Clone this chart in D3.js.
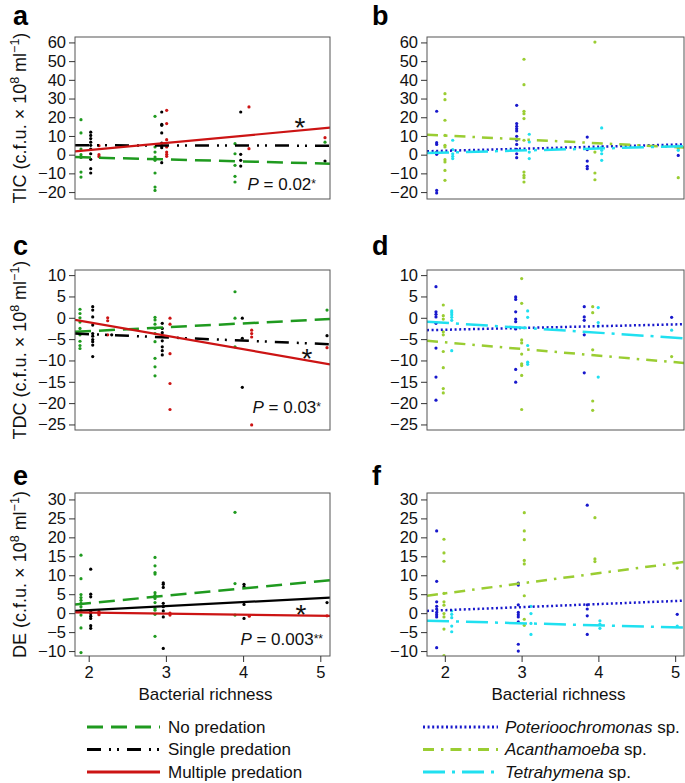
<!DOCTYPE html>
<html><head><meta charset="utf-8">
<script src="https://cdn.jsdelivr.net/npm/d3@7"></script>
<style>body{margin:0;background:#fff} text{font-family:"Liberation Sans",Arial,Helvetica,sans-serif}</style>
</head><body><svg id="c" width="685" height="783"></svg>
<script>
// ---------- DATA ----------
const richnessTicks = [2, 3, 4, 5];
const ticksTIC = [-20, -10, 0, 10, 20, 30, 40, 50, 60];
const ticksTDC = [-25, -20, -15, -10, -5, 0, 5, 10];
const ticksDE  = [-10, -5, 0, 5, 10, 15, 20, 25, 30];
const responseNames = ["TIC", "TDC", "DE"];
const predationNames = ["No predation", "Single predation", "Multiple predation"];
const predatorNames = ["Poterioochromonas", "Acanthamoeba", "Tetrahymena"];
const pValues = ["0.02", "0.03", "0.003"];
const pStars = ["*", "*", "**"];

// [jittered richness, [values]]
const tic_no = [[1.90,[18.7,11.6,3,0,-1.5,-9.3,-12]],[2.859,[20.5,4.1,1.4,-1.3,-3,-9.8,-17.3,-19.1]],[3.895,[5.9,0.5,-5.7,-11.6,-14.6]],[5.061,[6.7]]];
const tic_single = [[2.026,[12,10.3,8.6,6.7,5,3,0.5,-2.5,-7.5,-9.8]],[2.946,[22.8,16.2,15.7,11.6,6.2,4.6,3.7,-4.3]],[3.969,[22.8,0.2,-3,-6.1]],[5.061,[-3.4]]];
const tic_multi = [[2.133,[4.8,0,-1]],[3.01,[23.7,16.6,8,4.1,1.4,0.2,-0.9]],[4.076,[25.5,3.2]],[5.061,[9.1]]];

const tdc_no = [[1.887,[2,1,0,-1,-2.5,-4,-5.5,-6.5,-7.2]],[2.859,[0.1,-0.5,-1.5,-2.5,-3.7,-5.6,-9.5,-11.5,-13.6]],[3.895,[6.1,-0.1,-6.8]],[5.087,[1.8]]];
const tdc_single = [[2.052,[2.6,1.8,0.2,-1.7,-3.7,-4.3,-5.1,-5.6,-6.4,-9.1]],[2.298,[-4.0]],[2.953,[-1.3,-2.5,-3.5,-4.3,-5.4,-6.8,-7.7,-8.7]],[3.99,[-0.1,-4.8,-16.3]],[5.087,[-4.2]]];
const tdc_multi = [[2.246,[0,-0.7,-4]],[3.053,[-0.1,-1.5,-8.4,-15.4,-21.5]],[4.111,[-2.9,-3.7,-4.5,-25.1]],[5.087,[-7.0]]];

const de_no = [[1.90,[15.3,9.1,4.9,4.1,3.4,2.6,1.7,0.8,-0.5,-3.9,-10.4]],[2.859,[14.7,12.5,10.7,10.3,5.4,4.7,3.9,2.8,1.2,0.8,-0.3,-6.1]],[3.895,[26.6,7.8,-0.5]]];
const de_single = [[2.026,[11.6,5.0,4.3,0.4,-0.1,-0.8,-1.4,-3.3,-4.0]],[2.966,[8.0,7.6,6.8,2.6,1.7,0.6,-1.0,-9.3]],[4.012,[7.6,7.0,2.3,-1.4]],[5.087,[2.8]]];
const de_multi = [[2.133,[0.4,0,-0.4]],[3.053,[0,-0.5]],[4.08,[-0.8]],[5.087,[-0.7]]];

const ticP_pot = [[1.894,[23.2,6.4,5.5,1.4,0.2,-19.1,-20.5]],[2.936,[26.4,16.6,15.2,13.9,12.7,9.8,7.7,5.5,2.9,0.5,-1.6]],[3.855,[9.4,2.7,-3.4,-6.2,-7.5]],[5.04,[-0.4]]];
const ticP_aca = [[2.002,[32.6,29.4,18.4,10.3,5,4.1,-2.7,-3.9,-8.4,-13.7]],[3.031,[51,37.4,23.2,21.9,19.3,7.7,-9.3,-11.1,-12.3,-14.6]],[3.955,[60.2,1.4,-9.8,-13.4]],[5.04,[3.2,-12.3]]];
const ticP_tet = [[2.103,[7.7,2.7,0.5,-0.9,-2.1]],[3.1,[10.9,6.8,1.4,-2.1]],[4.043,[14.3,4.1,2.3,0.5,-3]],[5.04,[4.6,2.3]]];

const tdcP_pot = [[1.885,[7.3,1.4,0.8,0.2,-1.3,-7.1,-13.9,-19.3]],[2.923,[4.9,4.3,1.4,-0.3,-0.9,-2.3,-2.6,-12.1,-15.1]],[3.816,[2.6,0.2,-0.6,-4.0,-12.9]],[4.954,[0.1]]];
const tdcP_aca = [[1.98,[3.0,0.5,-0.3,-3.3,-4.0,-7.9,-11.7,-16.6,-17.6]],[3.001,[9.2,3.4,-5.2,-5.9,-8.5,-10.8,-11.2,-13.5,-21.5]],[3.926,[2.6,1.2,-7.5,-19.5,-21.7]],[4.954,[-9.1]]];
const tdcP_tet = [[2.09,[1.6,1.2,0.7,0.1,-0.6,-7.7]],[3.079,[1.6,0.1,-6.5,-10.4,-10.9]],[3.998,[2.4,-1.1,-1.9,-13.9]],[4.954,[-2.9]]];

const deP_pot = [[1.894,[21.7,8.4,3.0,1.8,1.1,0.2,-0.4,-1.0,-9.1]],[2.957,[7.9,7.4,2.2,0.2,-0.4,-1.0,-2.3,-8.2,-10]],[3.855,[28.5,2.2,1.1,-0.7,-5.6]],[5.027,[-0.3]]];
const deP_aca = [[1.989,[19.5,15.9,13.7,5.2,3.0,2.1,-0.1,-1.0,-4.2,-11.2]],[3.035,[26.5,21.7,19.4,13.9,13.0,4.6,-1.6,-3.2]],[3.955,[25.2,14.3,13.6]],[5.027,[11.9]]];
const deP_tet = [[2.09,[0.6,-0.3,-1.2,-3.4,-4.9]],[3.122,[1.8,-0.1,-2.7,-5.6]],[4.02,[-2.0,-2.9,-4.0]],[5.027,[-3.4]]];

// regression fits [intercept, slope]
const fitTIC = [[0.63,-1.06],[5.11,-0.06],[-5.15,3.815]];
const fitTDC = [[-4.955,0.908],[-2.32,-0.757],[5.24,-3.149]];
const fitDE  = [[-1.23,1.938],[-1.33,1.06],[0.70,-0.272]];
const fitTICp = [[-0.15,1.105],[14.35,-2.062],[-1.0,1.076]];
const fitTDCp = [[-3.64,0.418],[-2.65,-1.554],[1.16,-1.165]];
const fitDEp  = [[-0.83,0.807],[-0.10,2.659],[-1.05,-0.538]];

// ---------- STYLE / LAYOUT ----------
const predStyles = [
  {color:"#1f9a1f", dash:"16 8", w:2.5},
  {color:"#000000", dash:"14 8 2 6 2 8", w:2.5},
  {color:"#cc1414", dash:null, w:2.2}
];
const predStylesE = [predStyles[0], {color:"#000000", dash:null, w:2.2}, predStyles[2]];
const protStyles = [
  {color:"#1818cc", dash:"2 2.6", w:2.5},
  {color:"#9acd32", dash:"11 7 2.5 7", w:2.5},
  {color:"#20e0f0", dash:"22 7 3 7", w:2.5}
];
const cols = [{x0:75,x1:330,dom:[1.8225,5.1256]},{x0:427,x1:684,dom:[1.768,5.115]}];
const rows = [
  {y0:37,y1:199,dom:[-23.7,62.9],ticks:ticksTIC,letterY:25},
  {y0:270,y1:430,dom:[-26.3,11.2],ticks:ticksTDC,letterY:255},
  {y0:493,y1:656,dom:[-11.3,31.7],ticks:ticksDE,letterY:485}
];
const panels = [
  {letter:"a",col:0,row:0,series:[tic_no,tic_single,tic_multi],fits:fitTIC,styles:predStyles,pY:190,pX:316,star:[300,137]},
  {letter:"b",col:1,row:0,series:[ticP_pot,ticP_aca,ticP_tet],fits:fitTICp,styles:protStyles},
  {letter:"c",col:0,row:1,series:[tdc_no,tdc_single,tdc_multi],fits:fitTDC,styles:predStyles,pY:413,pX:321,star:[307,368]},
  {letter:"d",col:1,row:1,series:[tdcP_pot,tdcP_aca,tdcP_tet],fits:fitTDCp,styles:protStyles},
  {letter:"e",col:0,row:2,series:[de_no,de_single,de_multi],fits:fitDE,styles:predStylesE,pY:645,pX:323,star:[301,624]},
  {letter:"f",col:1,row:2,series:[deP_pot,deP_aca,deP_tet],fits:fitDEp,styles:protStyles}
];

const svg = d3.select("#c");
const FONT = '"Liberation Sans",Arial,Helvetica,sans-serif';

panels.forEach((p, i) => {
  const c = cols[p.col], r = rows[p.row];
  const x = d3.scaleLinear().domain(c.dom).range([c.x0, c.x1]);
  const y = d3.scaleLinear().domain(r.dom).range([r.y1, r.y0]);
  const g = svg.append("g");
  const clipId = "clip" + i;
  svg.append("clipPath").attr("id", clipId).append("rect")
    .attr("x", c.x0).attr("y", r.y0).attr("width", c.x1 - c.x0).attr("height", r.y1 - r.y0);
  const inner = g.append("g").attr("clip-path", `url(#${clipId})`);
  // points
  p.series.forEach((s, si) => {
    const pts = s.flatMap(([xv, ys]) => ys.map(v => [xv, v]));
    inner.selectAll(null).data(pts).enter().append("circle")
      .attr("cx", d => x(d[0])).attr("cy", d => y(d[1])).attr("r", 1.6)
      .attr("fill", p.styles[si].color);
  });
  // fit lines
  p.fits.forEach((f, si) => {
    const st = p.styles[si];
    const ln = d3.line().x(d => x(d)).y(d => y(f[0] + f[1] * d));
    inner.append("path").attr("d", ln(c.dom)).attr("fill", "none")
      .attr("stroke", st.color).attr("stroke-width", st.w)
      .attr("stroke-dasharray", st.dash);
  });
  // box
  g.append("rect").attr("x", c.x0).attr("y", r.y0).attr("width", c.x1 - c.x0).attr("height", r.y1 - r.y0)
    .attr("fill", "none").attr("stroke", "#555").attr("stroke-width", 1);
  // y axis
  const ya = g.append("g").attr("transform", `translate(${c.x0},0)`)
    .call(d3.axisLeft(y).tickValues(r.ticks).tickSize(6).tickPadding(3).tickFormat(d3.format("d")));
  ya.select(".domain").remove();
  ya.attr("font-size", 16.5).attr("font-family", FONT);
  ya.selectAll("line").attr("stroke", "#333");
  ya.selectAll("text").attr("fill", "#111");
  // x axis on bottom row
  if (p.row === 2) {
    const xa = g.append("g").attr("transform", `translate(0,${r.y1})`)
      .call(d3.axisBottom(x).tickValues(richnessTicks).tickSize(6).tickPadding(4).tickFormat(d3.format("d")));
    xa.select(".domain").remove();
    xa.attr("font-size", 16.5).attr("font-family", FONT);
    xa.selectAll("line").attr("stroke", "#333");
    xa.selectAll("text").attr("fill", "#111");
  }
  // letter
  svg.append("text").attr("x", p.col === 0 ? 13 : 372).attr("y", r.letterY)
    .attr("font-size", 27).attr("font-weight", "bold").text(p.letter);
  // left column: y title, P value, star
  if (p.col === 0) {
    const yt = svg.append("text")
      .attr("transform", `translate(26,${(r.y0 + r.y1) / 2}) rotate(-90)`)
      .attr("text-anchor", "middle").attr("font-size", 18).attr("fill", "#111");
    yt.append("tspan").text(responseNames[p.row] + " (c.f.u. \u00d7 10");
    yt.append("tspan").attr("font-size", 12.5).attr("dy", -7).text("8");
    yt.append("tspan").attr("dy", 7).text(" ml");
    yt.append("tspan").attr("font-size", 12.5).attr("dy", -7).text("\u22121");
    yt.append("tspan").attr("dy", 7).text(")");
    const pt = svg.append("text").attr("x", p.pX).attr("y", p.pY)
      .attr("text-anchor", "end").attr("font-size", 17).attr("fill", "#111");
    pt.append("tspan").attr("font-style", "italic").text("P");
    pt.append("tspan").text(" = " + pValues[p.row]);
    pt.append("tspan").attr("font-size", 12).attr("dy", -2).text(pStars[p.row]);
    svg.append("text").attr("x", p.star[0]).attr("y", p.star[1]).attr("text-anchor", "middle")
      .attr("font-size", 28).attr("fill", "#111").text("*");
  }
});

// x titles
[0, 1].forEach(ci => {
  svg.append("text").attr("x", (cols[ci].x0 + cols[ci].x1) / 2 + 3).attr("y", 700)
    .attr("text-anchor", "middle").attr("font-size", 17).attr("fill", "#111").text("Bacterial richness");
});

// legends
const legRows = [727, 749.5, 772];
predationNames.forEach((n, i) => {
  const st = predStyles[i];
  svg.append("line").attr("x1", 87).attr("x2", 160).attr("y1", legRows[i]).attr("y2", legRows[i])
    .attr("stroke", st.color).attr("stroke-width", 3).attr("stroke-dasharray", st.dash);
  svg.append("text").attr("x", 168).attr("y", legRows[i] + 5.5).attr("font-size", 17).attr("fill", "#111").text(n);
});
predatorNames.forEach((n, i) => {
  const st = protStyles[i];
  svg.append("line").attr("x1", 423).attr("x2", 498).attr("y1", legRows[i]).attr("y2", legRows[i])
    .attr("stroke", st.color).attr("stroke-width", 3).attr("stroke-dasharray", st.dash);
  const t = svg.append("text").attr("x", 505).attr("y", legRows[i] + 5.5).attr("font-size", 17).attr("fill", "#111");
  t.append("tspan").attr("font-style", "italic").text(n);
  t.append("tspan").text(" sp.");
});
</script></body></html>
